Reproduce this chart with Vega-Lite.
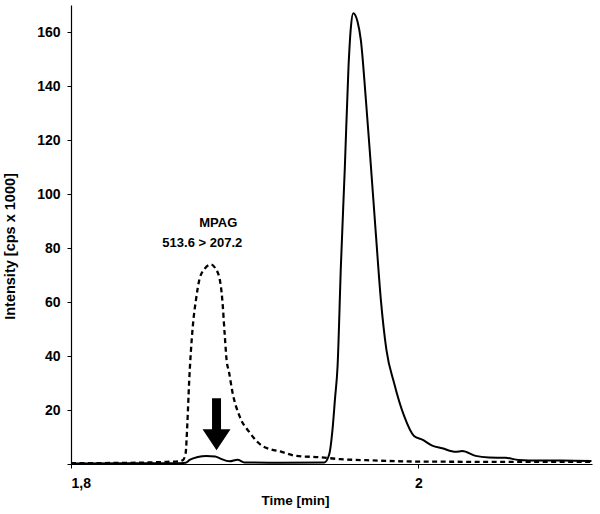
{
  "$schema": "https://vega.github.io/schema/vega-lite/v6.json",
  "width": 521,
  "height": 459,
  "autosize": {"type": "none"},
  "padding": {"left": 71, "top": 5, "right": 8, "bottom": 50},
  "background": "white",
  "config": {
    "view": {"stroke": null},
    "font": "Liberation Sans",
    "axis": {
      "grid": false,
      "domainColor": "black",
      "domainWidth": 1.2,
      "tickColor": "black",
      "tickSize": 4,
      "labelFont": "Liberation Sans",
      "labelFontWeight": "bold",
      "labelFontSize": 14,
      "labelColor": "black",
      "titleFont": "Liberation Sans",
      "titleFontSize": 13.5,
      "titleFontWeight": "bold",
      "titleColor": "black"
    }
  },
  "datasets": {
    "traces": [
      {"series": "MPAG", "t": 1.800, "v": 0.3},
      {"series": "MPAG", "t": 1.840, "v": 0.5},
      {"series": "MPAG", "t": 1.855, "v": 0.8},
      {"series": "MPAG", "t": 1.862, "v": 1.0},
      {"series": "MPAG", "t": 1.8645, "v": 1.5},
      {"series": "MPAG", "t": 1.866, "v": 4},
      {"series": "MPAG", "t": 1.867, "v": 15},
      {"series": "MPAG", "t": 1.868, "v": 30},
      {"series": "MPAG", "t": 1.870, "v": 50},
      {"series": "MPAG", "t": 1.872, "v": 61},
      {"series": "MPAG", "t": 1.874, "v": 68.5},
      {"series": "MPAG", "t": 1.877, "v": 72.3},
      {"series": "MPAG", "t": 1.8807, "v": 73.9},
      {"series": "MPAG", "t": 1.883, "v": 72.6},
      {"series": "MPAG", "t": 1.8856, "v": 68.5},
      {"series": "MPAG", "t": 1.8871, "v": 61},
      {"series": "MPAG", "t": 1.8885, "v": 48},
      {"series": "MPAG", "t": 1.8896, "v": 38.5},
      {"series": "MPAG", "t": 1.891, "v": 34},
      {"series": "MPAG", "t": 1.893, "v": 26.5},
      {"series": "MPAG", "t": 1.897, "v": 17.8},
      {"series": "MPAG", "t": 1.9028, "v": 11.7},
      {"series": "MPAG", "t": 1.9102, "v": 6.7},
      {"series": "MPAG", "t": 1.9217, "v": 4.4},
      {"series": "MPAG", "t": 1.9298, "v": 3.0},
      {"series": "MPAG", "t": 1.943, "v": 2.5},
      {"series": "MPAG", "t": 1.955, "v": 1.8},
      {"series": "MPAG", "t": 1.970, "v": 1.4},
      {"series": "MPAG", "t": 2.000, "v": 0.9},
      {"series": "MPAG", "t": 2.050, "v": 0.8},
      {"series": "MPAG", "t": 2.100, "v": 0.8},
      {"series": "main", "t": 1.800, "v": 0.2},
      {"series": "main", "t": 1.860, "v": 0.3},
      {"series": "main", "t": 1.866, "v": 0.5},
      {"series": "main", "t": 1.8683, "v": 1.5},
      {"series": "main", "t": 1.873, "v": 2.6},
      {"series": "main", "t": 1.878, "v": 3.0},
      {"series": "main", "t": 1.883, "v": 2.8},
      {"series": "main", "t": 1.886, "v": 2.0},
      {"series": "main", "t": 1.8913, "v": 1.0},
      {"series": "main", "t": 1.8959, "v": 1.6},
      {"series": "main", "t": 1.8999, "v": 0.6},
      {"series": "main", "t": 1.920, "v": 0.5},
      {"series": "main", "t": 1.9459, "v": 0.6},
      {"series": "main", "t": 1.9487, "v": 3.6},
      {"series": "main", "t": 1.9506, "v": 12.9},
      {"series": "main", "t": 1.9520, "v": 24},
      {"series": "main", "t": 1.9535, "v": 36.3},
      {"series": "main", "t": 1.9554, "v": 73.2},
      {"series": "main", "t": 1.9577, "v": 110.2},
      {"series": "main", "t": 1.9598, "v": 147.2},
      {"series": "main", "t": 1.9612, "v": 162},
      {"series": "main", "t": 1.9625, "v": 166.9},
      {"series": "main", "t": 1.9650, "v": 163.8},
      {"series": "main", "t": 1.9669, "v": 157},
      {"series": "main", "t": 1.9698, "v": 134.9},
      {"series": "main", "t": 1.9727, "v": 110.2},
      {"series": "main", "t": 1.9755, "v": 85.6},
      {"series": "main", "t": 1.9784, "v": 61},
      {"series": "main", "t": 1.9816, "v": 42.4},
      {"series": "main", "t": 1.9860, "v": 30.1},
      {"series": "main", "t": 1.9918, "v": 17.8},
      {"series": "main", "t": 1.9975, "v": 10.4},
      {"series": "main", "t": 2.0023, "v": 9.0},
      {"series": "main", "t": 2.0080, "v": 6.8},
      {"series": "main", "t": 2.0138, "v": 5.8},
      {"series": "main", "t": 2.0215, "v": 4.5},
      {"series": "main", "t": 2.0253, "v": 4.8},
      {"series": "main", "t": 2.0330, "v": 3.0},
      {"series": "main", "t": 2.0406, "v": 2.4},
      {"series": "main", "t": 2.0502, "v": 2.3},
      {"series": "main", "t": 2.0578, "v": 1.5},
      {"series": "main", "t": 2.0693, "v": 1.3},
      {"series": "main", "t": 2.0825, "v": 1.3},
      {"series": "main", "t": 2.0997, "v": 1.1}
    ],
    "labels": [
      {"t": 1.8848, "v": 87.9, "text": "MPAG"},
      {"t": 1.8756, "v": 80.5, "text": "513.6 > 207.2"}
    ],
    "arrow": [
      {"t": 1.8838, "v": 14.7}
    ]
  },
  "encoding": {
    "x": {
      "field": "t", "type": "quantitative",
      "scale": {"domain": [1.8, 2.1], "nice": false, "zero": false},
      "axis": {
        "values": [1.8, 2],
        "labelExpr": "replace(format(datum.value, '~g'), '.', ',')",
        "labelPadding": 8,
        "title": "Time [min]",
        "titleX": 224,
        "titleY": 40,
        "titleBaseline": "alphabetic",
        "titleAlign": "center"
      }
    },
    "y": {
      "field": "v", "type": "quantitative",
      "scale": {"domain": [0, 170], "nice": false},
      "axis": {
        "values": [0, 20, 40, 60, 80, 100, 120, 140, 160],
        "labelExpr": "datum.value == 0 ? '' : datum.label",
        "labelPadding": 7,
        "title": "Intensity [cps x 1000]",
        "titleFontSize": 14.5,
        "titleX": -57,
        "titleY": 241,
        "titleBaseline": "alphabetic",
        "titleAlign": "center"
      }
    }
  },
  "layer": [
    {
      "data": {"name": "traces"},
      "transform": [{"filter": "datum.series == 'MPAG'"}],
      "mark": {"type": "line", "color": "black", "strokeWidth": 2.3, "strokeDash": [5, 3.5], "interpolate": "monotone"}
    },
    {
      "data": {"name": "traces"},
      "transform": [{"filter": "datum.series == 'main'"}],
      "mark": {"type": "line", "color": "black", "strokeWidth": 2, "interpolate": "monotone"}
    },
    {
      "data": {"name": "labels"},
      "mark": {"type": "text", "font": "Liberation Sans", "fontWeight": "bold", "fontSize": 13, "color": "black", "baseline": "alphabetic", "align": "center"},
      "encoding": {
        "text": {"field": "text"}
      }
    },
    {
      "data": {"name": "arrow"},
      "mark": {
        "type": "point",
        "shape": "M-0.173,-1L0.173,-1L0.173,0.19L0.538,0.19L0,1L-0.538,0.19L-0.173,0.19Z",
        "size": 2704,
        "filled": true,
        "color": "black",
        "opacity": 1,
        "strokeWidth": 0
      }
    }
  ]
}
